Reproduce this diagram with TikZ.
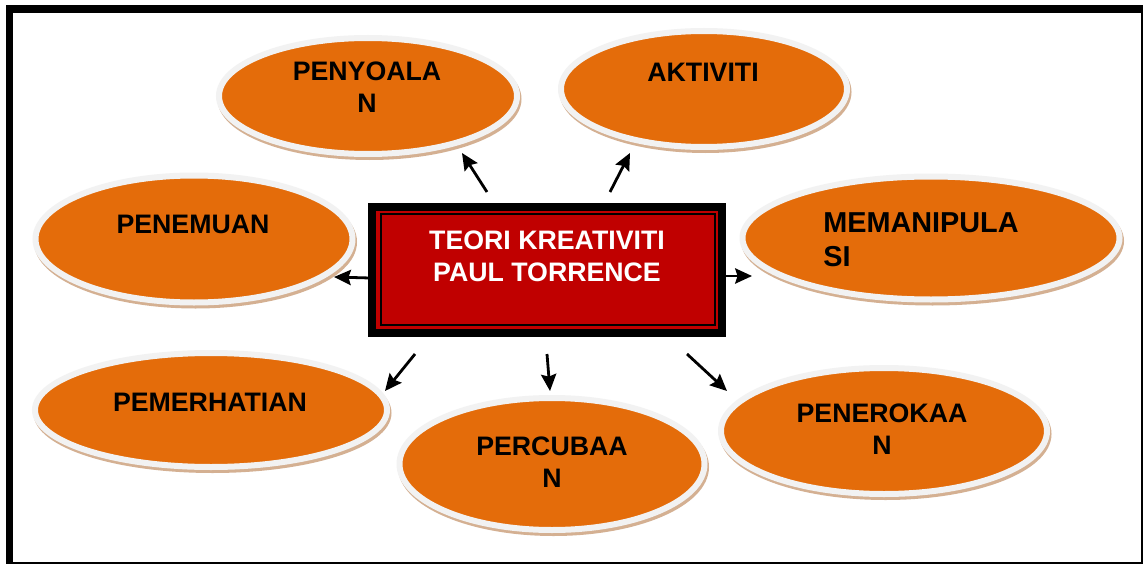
\documentclass[tikz,border=0pt]{standalone}
\usepackage{fontspec}
\setmainfont{Liberation Sans}
\usetikzlibrary{shapes.geometric,arrows.meta}

\newlength{\du}
\setlength{\du}{0.025cm}

\definecolor{bloborange}{RGB}{228,108,10}
\definecolor{blobrim}{RGB}{242,242,242}
\definecolor{blobshade}{RGB}{212,176,146}
\definecolor{teorired}{RGB}{192,0,0}

\tikzset{
  blob/.style={ellipse, fill=bloborange, draw=blobrim, line width=6\du, inner sep=0pt,
    preaction={fill=blobshade, draw=blobshade, line width=6\du,
      transform canvas={shift={(1.5\du,-3\du)}}}},
  blobtext/.style={font=\fontsize{19}{22.5}\selectfont\bfseries, align=center, inner sep=0pt},
  teoribox/.style={rectangle, fill=teorired, draw=black, line width=8\du, inner sep=0pt},
  ptr/.style={-{Stealth[length=0.42cm,width=0.38cm,inset=0.06cm]}, line width=2.8\du}
}

\begin{document}
\begin{tikzpicture}[x=\du, y=-\du]
\useasboundingbox (0,0) rectangle (1144,565);
% page frame
\fill[black] (6,5) rectangle (1143,564);
\fill[white] (13,13) rectangle (1141,562);

% ellipses
\node[blob, minimum width=298\du, minimum height=116\du] (pen) at (368,96) {};
\node[blob, minimum width=286\du, minimum height=116\du] (akt) at (704,89) {};
\node[blob, minimum width=317\du, minimum height=127\du] (nem) at (194,239) {};
\node[blob, minimum width=377\du, minimum height=123\du] (man) at (931,238) {};
\node[blob, minimum width=352\du, minimum height=114\du] (mer) at (211,410) {};
\node[blob, minimum width=305\du, minimum height=132\du] (cub) at (552,464) {};
\node[blob, minimum width=326\du, minimum height=126\du] (rok) at (884,431) {};

\node[blobtext] (penT) at (367,87) {PENYOALA\\N};
\node[blobtext] (aktT) at (703,72) {AKTIVITI};
\node[blobtext] (nemT) at (193,224) {PENEMUAN};
\node[blobtext, align=left, anchor=west, font=\fontsize{20.5}{24}\selectfont\bfseries] (manT) at (823,240) {MEMANIPULA\\SI};
\node[blobtext] (merT) at (210,402) {PEMERHATIAN};
\node[blobtext] (cubT) at (552,462) {PERCUBAA\\N};
\node[blobtext] (rokT) at (882,429) {PENEROKAA\\N};

% centre box
\node[teoribox, minimum width=350\du, minimum height=126\du] (teori) at (547,270) {};
\draw[line width=2\du] ([shift={(13,11)}]teori.north west) rectangle ([shift={(-11,-12)}]teori.south east);
\node[blobtext, text=white] (teoriT) at (547,256) {TEORI KREATIVITI\\PAUL TORRENCE};

% arrows
\coordinate (pen-s) at (487,192); \coordinate (pen-e) at (462,153);
\coordinate (akt-s) at (610,192); \coordinate (akt-e) at (630,153);
\coordinate (nem-s) at (370,278); \coordinate (nem-e) at (334,277);
\coordinate (man-s) at (726,276); \coordinate (man-e) at (752,276);
\coordinate (mer-s) at (415,354); \coordinate (mer-e) at (385,391);
\coordinate (cub-s) at (547,354); \coordinate (cub-e) at (550,391);
\coordinate (rok-s) at (687,354); \coordinate (rok-e) at (727,391);
\foreach \n in {pen,akt,nem,man,mer,cub,rok}
  \draw[ptr] (\n-s) -- (\n-e);
\end{tikzpicture}
\end{document}
